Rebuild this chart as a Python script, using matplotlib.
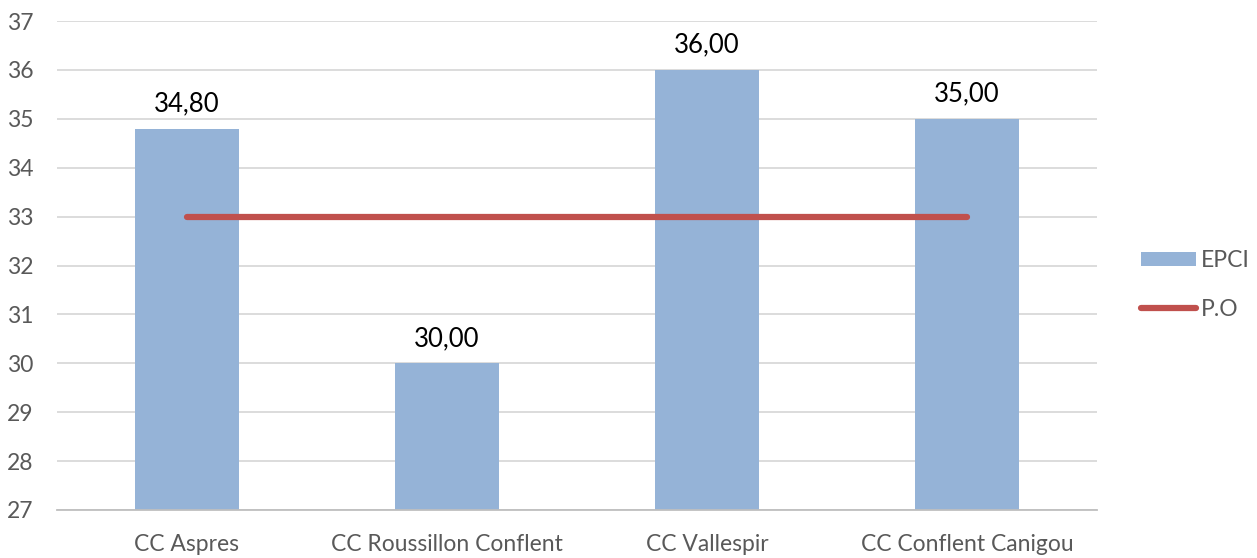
import numpy as np
import matplotlib.pyplot as plt
from matplotlib.patches import Patch
from matplotlib.lines import Line2D

# data
categories = ['CC Aspres', 'CC Roussillon Conflent', 'CC Vallespir', 'CC Conflent Canigou']
epci = [34.80, 30.00, 36.00, 35.00]
po = [33, 33, 33, 33]
yticks = list(range(27, 38))

bar_color = '#95B3D7'
line_color = '#C0504D'
grid_color = '#D9D9D9'
text_color = '#595959'

plt.rcParams['font.family'] = ['Lato', 'DejaVu Sans']

fig = plt.figure(figsize=(12.57, 5.58), dpi=100)
ax = fig.add_axes([57/1257, 48/558, 1040/1257, 489/558])

x = np.arange(len(categories))
bars = ax.bar(x, np.array(epci) - 27, bottom=27, width=0.4, color=bar_color, zorder=2)
ax.plot(x, po, color=line_color, linewidth=4.5, solid_capstyle='round', zorder=3)

for xi, v in zip(x, epci):
    ax.text(xi, v + 0.25, f'{v:.2f}'.replace('.', ','), ha='center', va='bottom',
            fontsize=18.5, color='black')

ax.set_xlim(-0.5, len(categories) - 0.5)
ax.set_ylim(27, 37)
ax.set_yticks(yticks)
ax.set_yticklabels([str(t) for t in yticks])
ax.set_xticks(x)
ax.set_xticklabels(categories)
ax.tick_params(axis='both', length=0, labelsize=16.5, labelcolor=text_color)
ax.tick_params(axis='y', pad=17)
ax.tick_params(axis='x', pad=17)
ax.yaxis.grid(True, color=grid_color, linewidth=1.3, zorder=0)
ax.set_axisbelow(True)
for s in ['top', 'right', 'left']:
    ax.spines[s].set_visible(False)
ax.spines['bottom'].set_color('#BFBFBF')
ax.spines['bottom'].set_linewidth(1.3)

handles = [Patch(facecolor=bar_color, label='EPCI'),
           Line2D([0], [0], color=line_color, linewidth=4.5, solid_capstyle='round', label='P.O')]
fig.legend(handles=handles, loc='center left', bbox_to_anchor=(1120/1257, 1 - 285/558),
           frameon=False, fontsize=16.5, labelcolor=text_color, handlelength=2.4,
           handleheight=0.6, handletextpad=0.25, labelspacing=1.2)

fig.savefig('out.png', dpi=100)
